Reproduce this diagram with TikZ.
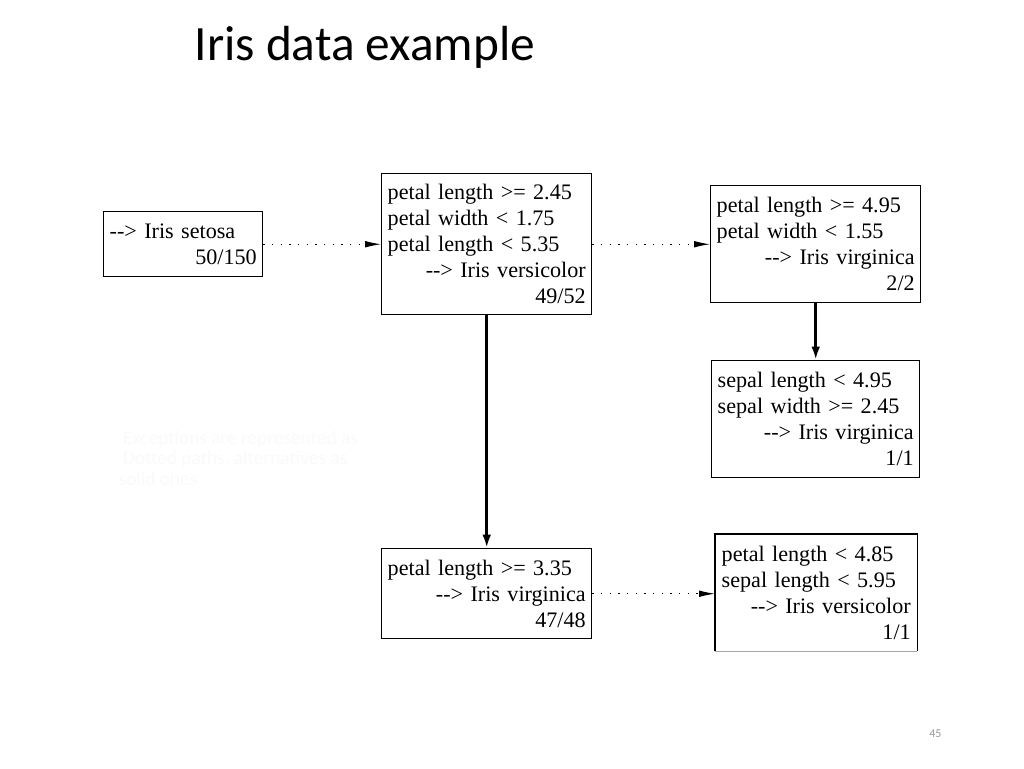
\documentclass[tikz,border=0pt]{standalone}
\usepackage{fontspec}
\setmainfont{Liberation Serif}
\newfontfamily\treefont{Liberation Serif}
\newfontfamily\titlefont{Carlito}
\usetikzlibrary{arrows.meta}
\newcommand\rline[1]{\mbox{}\hfill #1}
\begin{document}
\begin{tikzpicture}[x=0.75pt,y=-0.75pt,
  treebox/.style={draw, line width=1.1pt, anchor=north west, inner xsep=4.5pt, inner ysep=0pt,
    font=\treefont\fontsize{16.6}{19.5}\selectfont, align=left},
  excarrow/.style={line width=0.8pt, dash pattern=on 0.8pt off 5.7pt, -{Latex[length=12pt,width=5pt]}},
  altarrow/.style={line width=2.3pt, -{Latex[length=10pt,width=6.5pt]}}]
\useasboundingbox (0,0) rectangle (1024,768);
\fill[white] (0,0) rectangle (1024,768);

\node[anchor=base west, font=\titlefont\fontsize{37}{44}\selectfont] (title) at (190,60) {Iris data example};

\node[treebox, text width=110.25pt, minimum height=48.75pt] (setosa) at (103,211)
  {-{}-> Iris setosa\\ \rline{50/150}};
\node[treebox, text width=148.5pt, minimum height=105.75pt] (vers) at (381,173)
  {petal length >= 2.45\\ petal width < 1.75\\ petal length < 5.35\\ \rline{-{}-> Iris versicolor}\\ \rline{49/52}};
\node[treebox, text width=148.5pt, minimum height=87.75pt] (virg1) at (710,185)
  {petal length >= 4.95\\ petal width < 1.55\\ \rline{-{}-> Iris virginica}\\ \rline{2/2}};
\node[treebox, text width=147pt, minimum height=87.75pt] (virg2) at (711,360)
  {sepal length < 4.95\\ sepal width >= 2.45\\ \rline{-{}-> Iris virginica}\\ \rline{1/1}};
\node[treebox, text width=148.5pt, minimum height=67.5pt] (virg3) at (381,548)
  {petal length >= 3.35\\ \rline{-{}-> Iris virginica}\\ \rline{47/48}};
\node[treebox, draw=none, text width=141.75pt, minimum height=87pt] (vers2) at (715,534)
  {petal length < 4.85\\ sepal length < 5.95\\ \rline{-{}-> Iris versicolor}\\ \rline{1/1}};
\draw[line width=1.1pt] (vers2.south west) -- (vers2.north west) -- (vers2.north east) -- (vers2.south east);
\draw[gray!70, line width=0.6pt] (vers2.south west) -- (vers2.south east);

\draw[excarrow] (setosa.east) -- (setosa.east -| vers.west);
\draw[excarrow] (vers.east) -- (vers.east -| virg1.west);
\draw[excarrow] (virg3.east) -- (virg3.east -| vers2.west);
\draw[altarrow] (vers.south) -- (vers.south |- virg3.north);
\draw[altarrow] (virg1.south) -- (virg1.south |- virg2.north);

\node[anchor=north west, align=left, text=gray!4, font=\titlefont\fontsize{14.5}{15.5}\selectfont] (note) at (114,426)
  {\ Exceptions are represented as\\ \ Dotted paths, alternatives as\\ solid ones};

\node[anchor=base west, text=gray!80, font=\titlefont\fontsize{9}{11}\selectfont, inner sep=0pt] (pg) at (929,737) {45};
\end{tikzpicture}
\end{document}
